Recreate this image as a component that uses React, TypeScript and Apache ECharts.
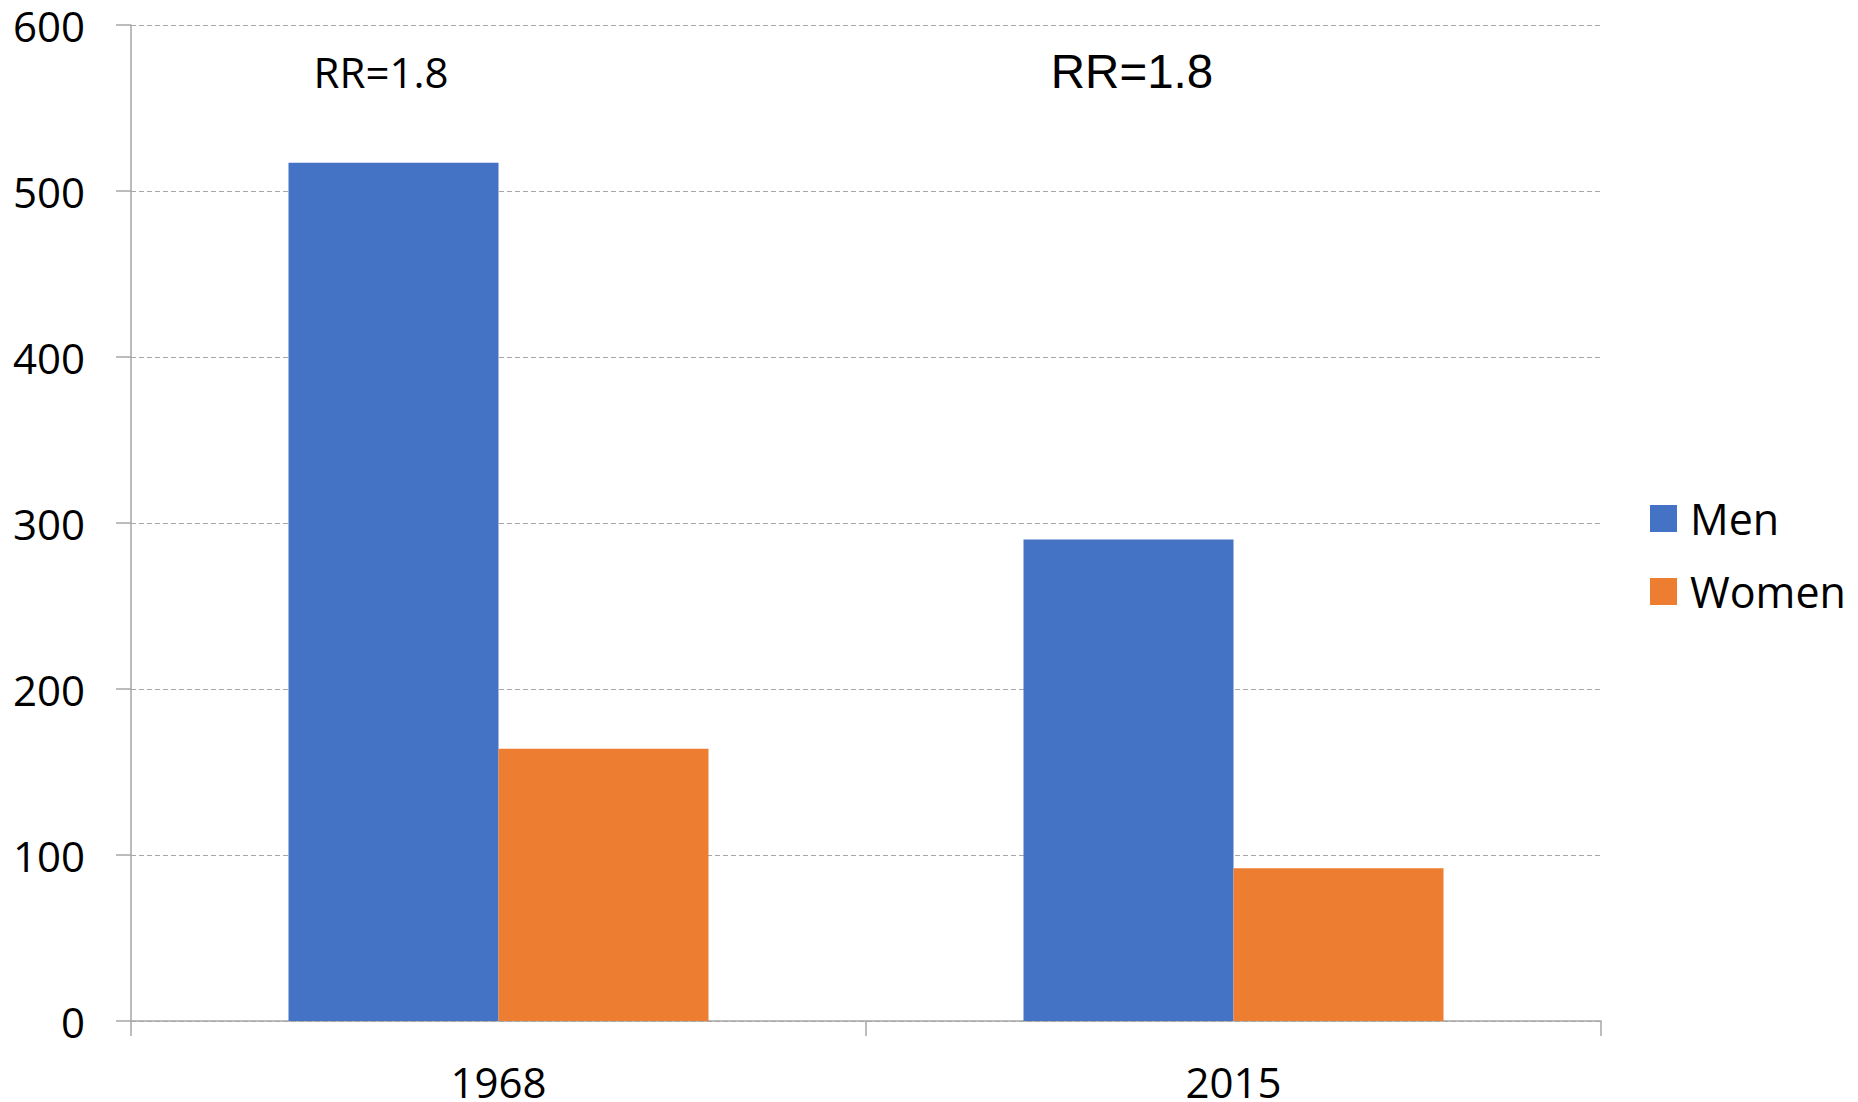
import React, { useEffect, useRef } from "react";
import * as echarts from "echarts";

const categories = ["1968", "2015"];
const menValues = [517, 290];
const womenValues = [164, 92];
const seriesNames = ["Men", "Women"];
const annotations = ["RR=1.8", "RR=1.8"];
const yTicks = { min: 0, max: 600, interval: 100 };

export default function App() {
  const ref = useRef<HTMLDivElement>(null);
  useEffect(() => {
    if (!ref.current) return;
    const chart = echarts.init(ref.current, null, { renderer: "svg" });
    const axisColor = "#a6a6a6";
    chart.setOption({
      animation: false,
      backgroundColor: "#ffffff",
      grid: { left: 131, right: 257, top: 25, bottom: 81, containLabel: false },
      legend: {
        orient: "vertical",
        left: 1645,
        top: 492,
        itemWidth: 27,
        itemHeight: 27,
        itemGap: 30,
        icon: "rect",
        data: seriesNames,
        textStyle: {
          fontFamily: "Open Sans",
          fontSize: 43,
          lineHeight: 43,
          color: "#000",
          padding: [0, 0, 0, 8],
        },
      },
      xAxis: {
        type: "category",
        data: categories,
        axisLine: { lineStyle: { color: axisColor, width: 1.5 } },
        axisTick: { show: true, length: 15, lineStyle: { color: axisColor, width: 1.5 } },
        axisLabel: { fontFamily: "Open Sans", fontSize: 42, lineHeight: 40, color: "#000", margin: 40 },
        splitLine: { show: false },
      },
      yAxis: {
        type: "value",
        min: yTicks.min,
        max: yTicks.max,
        interval: yTicks.interval,
        axisLine: { show: true, lineStyle: { color: axisColor, width: 1.5 } },
        axisTick: { show: true, length: 15, lineStyle: { color: axisColor, width: 1.5 } },
        axisLabel: { fontFamily: "Open Sans", fontSize: 42, lineHeight: 40, color: "#000", margin: 46 },
        splitLine: { show: true, lineStyle: { color: axisColor, width: 1.2, type: [5, 3] } },
      },
      series: [
        {
          name: seriesNames[0],
          type: "bar",
          data: menValues,
          barWidth: 210,
          barGap: "0%",
          itemStyle: { color: "#4472C4" },
        },
        {
          name: seriesNames[1],
          type: "bar",
          data: womenValues,
          barWidth: 210,
          barGap: "0%",
          itemStyle: { color: "#ED7D31" },
        },
      ],
      graphic: [
        {
          type: "text",
          x: 381,
          y: 71,
          style: {
            text: annotations[0],
            fontFamily: "Open Sans",
            fontSize: 42,
            fill: "#000",
            textAlign: "center",
            textVerticalAlign: "middle",
          },
        },
        {
          type: "text",
          x: 1132,
          y: 71,
          style: {
            text: annotations[1],
            fontFamily: "Liberation Sans",
            fontSize: 47.5,
            fill: "#000",
            textAlign: "center",
            textVerticalAlign: "middle",
          },
        },
      ],
    });
    return () => chart.dispose();
  }, []);
  return <div ref={ref} style={{ width: 1858, height: 1102, position: "absolute", left: 0, top: 0 }} />;
}
